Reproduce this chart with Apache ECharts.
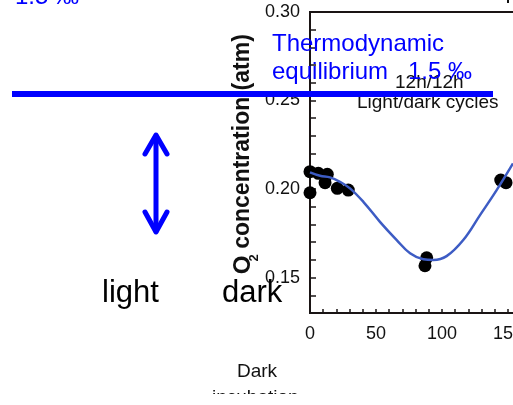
<!DOCTYPE html>
<html>
<head>
<meta charset="utf-8">
<script src="https://cdn.jsdelivr.net/npm/echarts@6/dist/echarts.min.js"></script>
<style>
  html, body { margin: 0; padding: 0; background: #fff; }
  #chart { width: 513px; height: 405px; }
</style>
</head>
<body>
<div id="chart"></div>
<script>
// Measured O2 concentration (atm) against dark incubation time (h)
const obsTime = [0, 0, 6.3, 13.1, 11.4, 20.7, 29, 88.4, 87.1, 144.5, 148.5];
const obsO2 = [0.2098, 0.1979, 0.2089, 0.2083, 0.2036, 0.2004, 0.1994, 0.1612, 0.1567, 0.2051, 0.2036];

// Fitted light/dark cycle curve
const fitTime = [0, 7.6, 15.2, 22.7, 30.3, 40.4, 53, 65.7, 75.8, 85.9, 93.4, 103.5, 116.1, 128.8, 141.4, 153.8];
const fitO2 = [0.2094, 0.2075, 0.2066, 0.2041, 0.2004, 0.1928, 0.1815, 0.1712, 0.1637, 0.1603, 0.1599, 0.1621, 0.1712, 0.1853, 0.1994, 0.2145];

// Axis ranges and labelled ticks
const xMin = 0, xMax = 160, xStep = 10, xLabelStep = 50;
const yMin = 0.13, yMax = 0.30, yStep = 0.01;
const yLabelTicks = [0.15, 0.20, 0.25, 0.30];

const FONT = '"Liberation Sans", Arial, sans-serif';
const BLUE = '#0000ff';
const INK = '#111';

// text placed by its baseline (top-aligned box, Arial ascent ≈ 0.8 em)
function label(text, x, baseline, size, fill, extra) {
  return Object.assign({
    type: 'text', x: x, y: baseline - 0.8 * size, z: 70,
    style: { text: text, fontFamily: FONT, fontSize: size, fill: fill, verticalAlign: 'top', align: 'left' }
  }, extra || {});
}

const chart = echarts.init(document.getElementById('chart'), null, { renderer: 'canvas' });

chart.setOption({
  animation: false,
  backgroundColor: '#fff',
  grid: {
    left: 310, top: 12, width: 211.2, height: 301,
    outerBoundsMode: 'none', containLabel: false,
    show: true, borderColor: '#1a1414', borderWidth: 2, backgroundColor: 'transparent'
  },
  xAxis: {
    type: 'value', min: xMin, max: xMax, interval: xStep,
    axisLine: { show: true, lineStyle: { color: '#1a1414', width: 2 } },
    axisTick: { show: true, inside: true, length: 4, lineStyle: { color: '#1a1414', width: 1.5 } },
    splitLine: { show: false },
    axisLabel: {
      margin: 12, fontFamily: FONT, fontSize: 18, color: INK, hideOverlap: false,
      formatter: v => (Math.round(v) % xLabelStep === 0 ? String(Math.round(v)) : '')
    }
  },
  yAxis: {
    type: 'value', min: yMin, max: yMax, interval: yStep,
    axisLine: { show: true, lineStyle: { color: '#1a1414', width: 2 } },
    axisTick: { show: true, inside: true, length: 6, lineStyle: { color: '#1a1414', width: 1.5 } },
    splitLine: { show: false },
    axisLabel: {
      margin: 10, fontFamily: FONT, fontSize: 18, color: INK,
      formatter: v => {
        const r = Math.round(v * 100) / 100;
        return yLabelTicks.some(t => Math.abs(t - r) < 1e-6) ? r.toFixed(2) : '';
      }
    }
  },
  series: [
    {
      type: 'scatter',
      data: obsTime.map((t, i) => [t, obsO2[i]]),
      symbol: 'circle', symbolSize: 13,
      itemStyle: { color: '#000', opacity: 1 },
      z: 2
    },
    {
      type: 'line',
      data: fitTime.map((t, i) => [t, fitO2[i]]),
      smooth: 0.4, showSymbol: false,
      lineStyle: { color: '#3d5cc4', width: 2.5 },
      z: 3
    }
  ],
  graphic: [
    // y-axis title: O, subscript 2, then the rest
    {
      type: 'text', x: 243, y: 141.5, rotation: Math.PI / 2, z: 50,
      style: { text: 'concentration (atm)', fontFamily: FONT, fontSize: 23, fontWeight: 'bold', fill: INK, align: 'center', verticalAlign: 'middle' }
    },
    {
      type: 'text', x: 243, y: 265, rotation: Math.PI / 2, z: 50,
      style: { text: 'O', fontFamily: FONT, fontSize: 24, fontWeight: 'bold', fill: INK, align: 'center', verticalAlign: 'middle' }
    },
    {
      type: 'text', x: 254, y: 258, rotation: Math.PI / 2, z: 50,
      style: { text: '2', fontFamily: FONT, fontSize: 13, fontWeight: 'bold', fill: INK, align: 'center', verticalAlign: 'middle' }
    },
    // panel notes
    label('12h/12h', 395, 88, 19, INK, { z: 50 }),
    label('Light/dark cycles', 357, 108, 19, INK, { z: 50 }),
    // x-axis caption
    label('Dark', 237, 377, 19, INK, { z: 50 }),
    label('incubation', 212, 403, 19, INK, { z: 50 }),
    { type: 'rect', shape: { x: 0, y: 394, width: 513, height: 11 }, z: 60, style: { fill: '#fff' } },
    // small mark at top edge
    { type: 'line', shape: { x1: 508, y1: 0, x2: 508, y2: 3 }, z: 50, style: { stroke: INK, lineWidth: 2 } },
    // equilibrium annotation
    label('1.5 ‰', 15, 5, 24, BLUE),
    label('Thermodynamic', 272, 52, 24, BLUE),
    label('equilibrium', 272, 80, 24, BLUE),
    label('1.5 ‰', 408, 80, 24, BLUE),
    { type: 'line', shape: { x1: 12, y1: 94, x2: 493, y2: 94 }, z: 70, style: { stroke: BLUE, lineWidth: 6 } },
    // double-headed arrow
    { type: 'line', shape: { x1: 156, y1: 136, x2: 156, y2: 231 }, z: 70, style: { stroke: BLUE, lineWidth: 5, lineCap: 'round' } },
    { type: 'polyline', shape: { points: [[145, 154], [156, 135], [167, 154]] }, z: 70, style: { stroke: BLUE, lineWidth: 5, lineCap: 'round', lineJoin: 'round', fill: null } },
    { type: 'polyline', shape: { points: [[145, 212], [156, 232], [167, 212]] }, z: 70, style: { stroke: BLUE, lineWidth: 5, lineCap: 'round', lineJoin: 'round', fill: null } },
    // light / dark labels
    label('light', 102, 303, 31, '#000'),
    label('dark', 222, 303, 31, '#000')
  ]
});
</script>
</body>
</html>
